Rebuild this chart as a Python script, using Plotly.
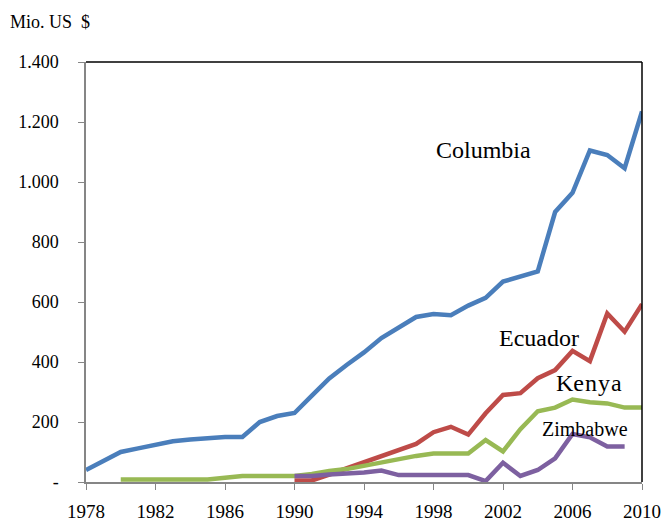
import plotly.graph_objects as go

# Annual values, Mio. US $
years_columbia = list(range(1978, 2011))
columbia = [40, 72, 100, 112, 124, 136, 142, 146, 150, 150, 200, 220, 230, 288, 345,
            390, 432, 480, 515, 550, 560, 556, 588, 614, 668, 686, 702, 900, 964,
            1105, 1090, 1046, 1235]

years_ecuador = list(range(1990, 2011))
ecuador = [5, 5, 25, 45, 65, 85, 107, 127, 166, 184, 158, 229, 290, 296, 346, 373,
           437, 403, 562, 501, 593]

years_kenya = list(range(1980, 2011))
kenya = [8, 8, 8, 8, 8, 8, 14, 20, 20, 20, 20, 27, 37, 43, 54, 66, 77, 87, 95, 95,
         95, 140, 102, 176, 236, 248, 275, 266, 262, 248, 248]

years_zimbabwe = list(range(1990, 2010))
zimbabwe = [20, 20, 25, 28, 32, 38, 23, 23, 23, 23, 23, 3, 64, 20, 40, 79, 160, 149,
            118, 118]

x_ticks = list(range(1978, 2011, 4))
y_ticks = [0, 200, 400, 600, 800, 1000, 1200, 1400]
y_tick_text = ["-", "200", "400", "600", "800", "1.000", "1.200", "1.400"]

series = [
    ("Columbia", years_columbia, columbia, "#4A7EBB"),
    ("Ecuador", years_ecuador, ecuador, "#BE4B48"),
    ("Kenya", years_kenya, kenya, "#98B954"),
    ("Zimbabwe", years_zimbabwe, zimbabwe, "#7D60A0"),
]

# Country labels placed next to their lines (x in years, y in Mio. US $)
labels = [
    ("Columbia", 2000.85, 1107, 24),
    ("Ecuador", 2004.1, 480, 24),
    ("K<span style='letter-spacing:1px'>enya</span>", 2007.0, 330, 24),
    ("Zimbabwe", 2006.7, 177, 20),
]

serif = "Liberation Serif, Times New Roman, serif"

fig = go.Figure()
for name, xs, ys, color in series:
    fig.add_trace(go.Scatter(
        x=xs, y=ys, mode="lines", name=name,
        line=dict(color=color, width=4.5),
        hoverinfo="x+y+name",
    ))

for text, lx, ly, size in labels:
    fig.add_annotation(x=lx, y=ly, text=text, showarrow=False,
                       font=dict(family=serif, size=size, color="black"),
                       xanchor="center", yanchor="middle")

# Black frame on the top and right of the plot area
fig.add_shape(type="line", xref="paper", yref="paper", x0=0, x1=1, y0=1, y1=1,
              line=dict(color="black", width=1.5))
fig.add_shape(type="line", xref="paper", yref="paper", x0=1, x1=1, y0=0, y1=1,
              line=dict(color="black", width=1.5))

fig.update_layout(
    width=664, height=523,
    margin=dict(l=86, r=22, t=62, b=41, autoexpand=False),
    paper_bgcolor="white", plot_bgcolor="white",
    showlegend=False,
    font=dict(family=serif, size=18, color="black"),
    title=dict(text="Mio. US  $", xref="container", yref="container",
               x=10 / 664, xanchor="left", y=1 - 22 / 523, yanchor="middle",
               font=dict(family=serif, size=18, color="black")),
    xaxis=dict(
        range=[1978, 2010], tickmode="array", tickvals=x_ticks,
        ticks="outside", ticklen=6, tickcolor="#868686", tickwidth=1.2,
        showline=True, linecolor="#868686", linewidth=1.5, automargin=False,
        showgrid=False, zeroline=False, ticklabelstandoff=5,
        tickfont=dict(family=serif, size=19, color="black"),
    ),
    yaxis=dict(
        range=[0, 1400], tickmode="array", tickvals=y_ticks, ticktext=y_tick_text,
        ticks="outside", ticklen=6, tickcolor="#868686", tickwidth=1.2,
        showline=True, linecolor="#868686", linewidth=1.5, automargin=False,
        showgrid=False, zeroline=False, ticklabelstandoff=16,
        tickfont=dict(family=serif, size=18, color="black"),
    ),
)

fig.write_html("out.html")
